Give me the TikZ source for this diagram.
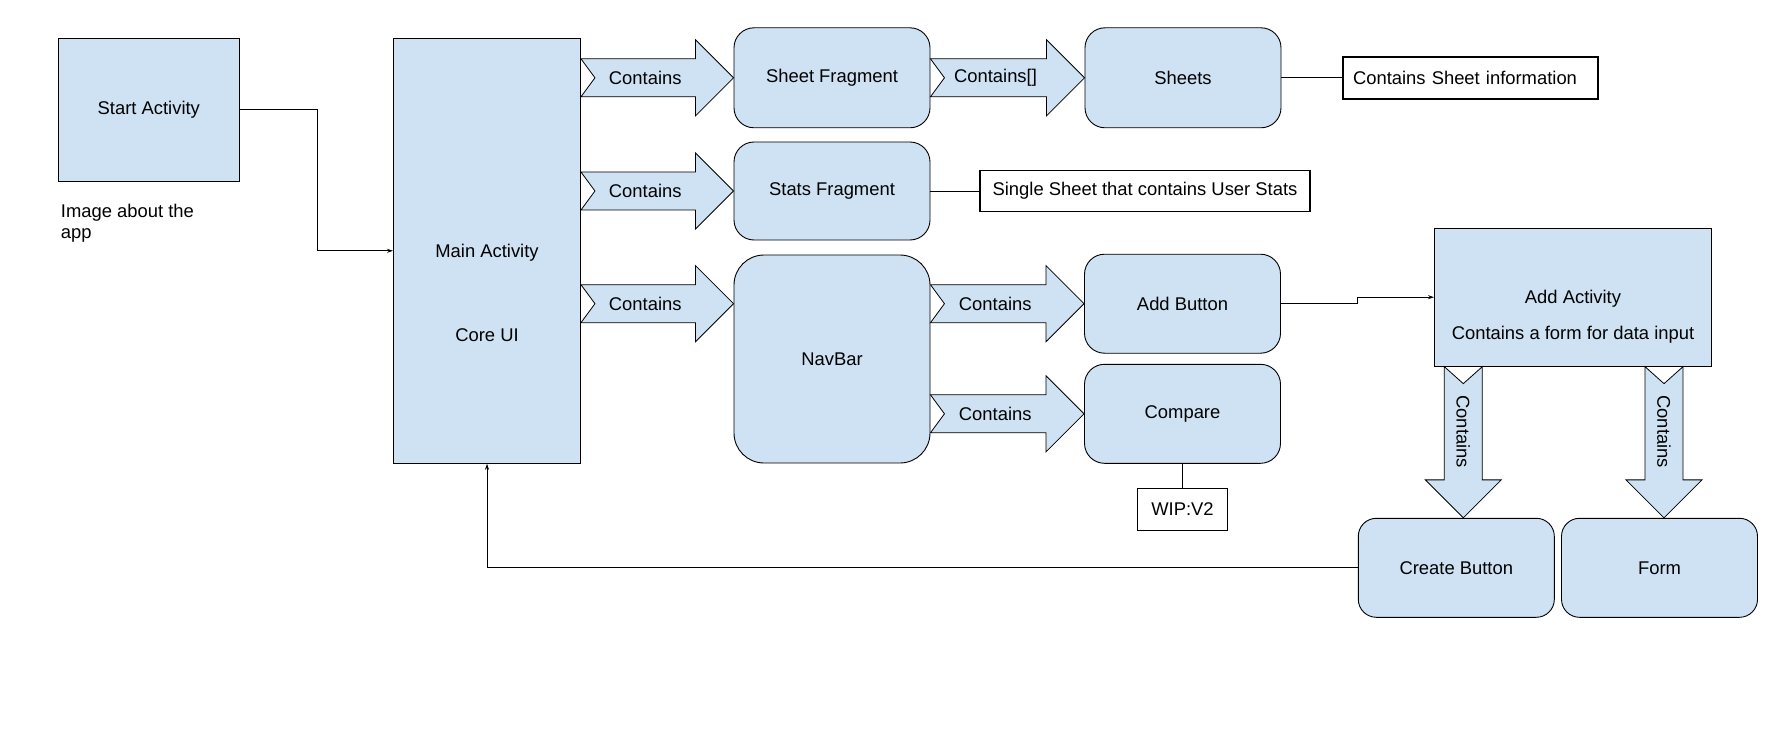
\documentclass[tikz,border=0pt]{standalone}
\usepackage{fontspec}
\setmainfont{Liberation Sans}
\usetikzlibrary{calc,arrows.meta}
\definecolor{paleblue}{HTML}{CFE2F3}
\tikzset{
  every node/.style={font=\fontsize{18.4}{21}\selectfont},
  actbox/.style={draw, line width=0.9pt, fill=paleblue, minimum width=196pt, minimum height=99pt},
  partbox/.style={actbox, rounded corners=20pt},
  notebox/.style={draw, line width=1.6pt, fill=white, minimum height=42pt},
  link/.style={line width=0.9pt},
  linkarrow/.style={link, -{Stealth[length=6pt,width=4pt]}},
  fatarrow/.style={draw, line width=0.8pt, fill=paleblue},
}
% wide "contains" arrows with a notched tail
\newcommand{\fatarrowh}[3]{%
  \draw[fatarrow] let \p1=(#1), \p2=(#2) in
    (\x1+14pt,\y1) -- (\x1,\y1+19pt) -- (\x2-38pt,\y1+19pt) -- (\x2-38pt,\y1+38pt)
    -- (\x2,\y1) -- (\x2-38pt,\y1-38pt) -- (\x2-38pt,\y1-19pt) -- (\x1,\y1-19pt) -- cycle
    node at ({(\x1+\x2-24pt)/2},\y1) {#3};}
\newcommand{\fatarrowv}[3]{%
  \draw[fatarrow] let \p1=(#1), \p2=(#2) in
    (\x1,\y1-17pt) -- (\x1-19pt,\y1) -- (\x1-19pt,\y2+38pt) -- (\x1-38pt,\y2+38pt)
    -- (\x1,\y2) -- (\x1+38pt,\y2+38pt) -- (\x1+19pt,\y2+38pt) -- (\x1+19pt,\y1) -- cycle
    node[rotate=-90] at (\x1,{(\y1+\y2+21pt)/2}) {#3};}
\begin{document}
\begin{tikzpicture}[x=1pt,y=-1pt]
  \useasboundingbox (0,0) rectangle (1782,738);

  % activities
  \path
    (148.8,109.8) node[actbox, minimum width=181pt, minimum height=143pt] (startact) {Start Activity}
    (487,250.8) node[actbox, minimum width=187pt, minimum height=425pt] (mainact) {}
    (1573,297.2) node[actbox, minimum width=277pt, minimum height=138pt] (addact) {};
  \node[anchor=west, align=left, inner sep=0pt] (appnote) at (60.7,223) {Image about the\\app};
  \node (mainlbl) at (487,252.3) {Main Activity};
  \node (corelbl) at (487,335) {Core UI};
  \node (addlbl) at (1573,298.3) {Add Activity};
  \node (formlbl) at (1573,335) {Contains a form for data input};

  % fragments and buttons
  \path
    (832,77.8) node[partbox, minimum height=100pt] (sheetfrag) {Sheet Fragment}
    (1183,77.8) node[partbox, minimum height=100pt] (sheets) {Sheets}
    (832,191) node[partbox, minimum height=98pt] (statsfrag) {Stats Fragment}
    (832,359) node[actbox, rounded corners=30pt, minimum height=208pt] (navbar) {NavBar}
    (1182.5,303.7) node[partbox] (addbtn) {Add Button}
    (1182.5,413.8) node[partbox] (compare) {Compare}
    (1456.3,567.8) node[partbox, rounded corners=18pt] (createbtn) {Create Button}
    (1659.5,567.8) node[partbox, rounded corners=18pt] (form) {Form};

  % notes
  \node[notebox, text width=235pt, align=left, inner xsep=10pt] (sheetinfo) at (1470.5,77.8) {Contains Sheet information};
  \node[notebox, minimum width=330pt, minimum height=41pt] (userstats) at (1145,191) {Single Sheet that contains User Stats};
  \node[notebox, minimum width=90pt] (wip) at (1182.5,509.5) {WIP:V2};

  % plain connectors
  \draw[linkarrow] (startact.east) -- ++(77.4,0) |- (mainact.west);
  \draw[linkarrow] (addbtn.east) -- ++(76,0) |- (addact.west);
  \draw[linkarrow] (createbtn.west) -| (mainact.south);
  \draw[link] (sheets.east) -- (sheetinfo.west);
  \draw[link] (statsfrag.east) -- (userstats.west);
  \draw[link] (compare.south) -- (wip.north);

  % contains arrows
  \fatarrowh{mainact.east |- sheetfrag}{sheetfrag.west}{Contains}
  \fatarrowh{sheetfrag.east}{sheets.west}{Contains[]}
  \fatarrowh{mainact.east |- statsfrag}{statsfrag.west}{Contains}
  \fatarrowh{mainact.east |- addbtn}{navbar.west |- addbtn}{Contains}
  \fatarrowh{navbar.east |- addbtn}{addbtn.west}{Contains}
  \fatarrowh{navbar.east |- compare}{compare.west}{Contains}
  \coordinate (cbtop) at ([xshift=7pt]createbtn.north);
  \coordinate (formtop) at ([xshift=4.5pt]form.north);
  \fatarrowv{addact.south -| cbtop}{cbtop}{Contains}
  \fatarrowv{addact.south -| formtop}{formtop}{Contains}
\end{tikzpicture}
\end{document}
